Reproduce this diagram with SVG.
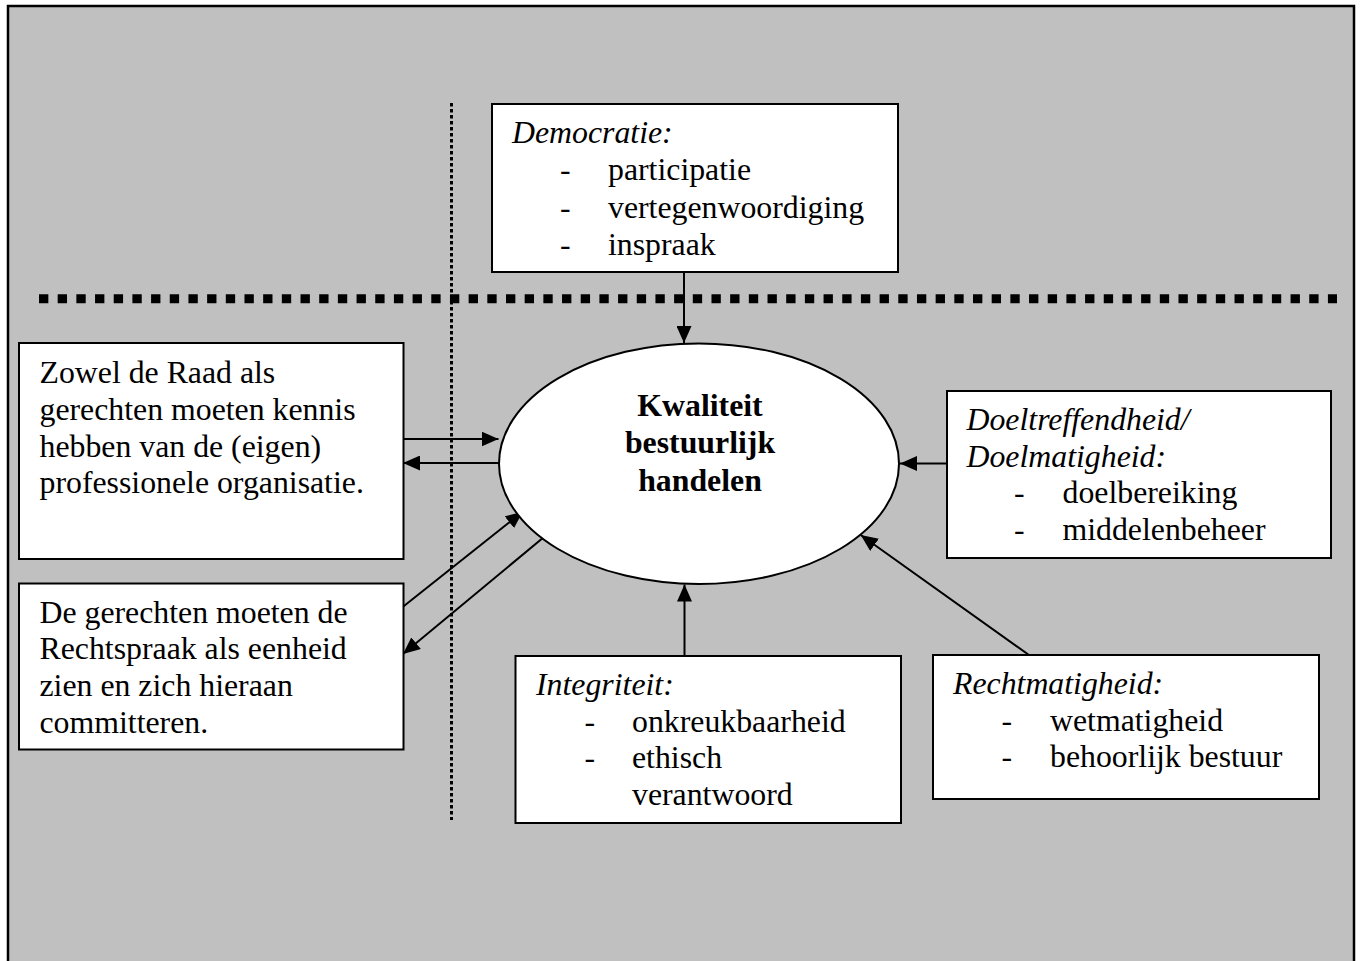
<svg xmlns="http://www.w3.org/2000/svg" width="1360" height="961" viewBox="0 0 1360 961">
<style>
text{font-family:"Liberation Serif","Times New Roman",serif;font-size:31.8px;fill:#000}
.it{font-style:italic}
.b{font-weight:bold}
.box{fill:#fff;stroke:#000;stroke-width:2}
.ln{stroke:#000;stroke-width:2;fill:none}
</style>
<defs>
<marker id="ah" markerUnits="userSpaceOnUse" markerWidth="17" markerHeight="15" refX="17" refY="7.5" orient="auto">
<path d="M0,0 L17,7.5 L0,15 z" fill="#000"/>
</marker>
</defs>
<rect x="8" y="6" width="1346" height="1000" fill="#c0c0c0" stroke="#000" stroke-width="2.5"/>
<g id="separators">
<line x1="39" y1="298.7" x2="1337" y2="298.7" stroke="#000" stroke-width="9" stroke-dasharray="9.34 9.34"/>
<line x1="451.5" y1="103" x2="451.5" y2="820" stroke="#000" stroke-width="3" stroke-dasharray="3.5 2.5"/>
</g>
<g id="connectors">
<line class="ln" x1="684" y1="272" x2="684" y2="343" marker-end="url(#ah)"/>
<line class="ln" x1="947" y1="463.5" x2="900" y2="463.5" marker-end="url(#ah)"/>
<line class="ln" x1="403" y1="439" x2="498.5" y2="439" marker-end="url(#ah)"/>
<line class="ln" x1="499" y1="463" x2="403" y2="463" marker-end="url(#ah)"/>
<line class="ln" x1="403" y1="606.7" x2="522.7" y2="511.7" marker-end="url(#ah)"/>
<line class="ln" x1="547.3" y1="534.3" x2="403" y2="654" marker-end="url(#ah)"/>
<line class="ln" x1="684.5" y1="656" x2="684.5" y2="584.5" marker-end="url(#ah)"/>
<line class="ln" x1="1029" y1="655" x2="860.7" y2="535" marker-end="url(#ah)"/>
</g>
<g id="center">
<ellipse cx="699" cy="463.7" rx="200" ry="120.3" fill="#fff" stroke="#000" stroke-width="2"/>
<text class="b" x="700" y="416" text-anchor="middle">Kwaliteit</text>
<text class="b" x="700" y="453" text-anchor="middle">bestuurlijk</text>
<text class="b" x="700" y="490.5" text-anchor="middle">handelen</text>
</g>
<g id="democratie">
<rect class="box" x="492" y="104" width="406" height="168"/>
<text class="it" x="512" y="143">Democratie:</text>
<text x="560" y="180">-</text><text x="608" y="180">participatie</text>
<text x="560" y="217.5">-</text><text x="608" y="217.5">vertegenwoordiging</text>
<text x="560" y="255">-</text><text x="608" y="255">inspraak</text>
</g>
<g id="doel">
<rect class="box" x="947" y="391" width="384" height="167"/>
<text class="it" x="966.5" y="430">Doeltreffendheid/</text>
<text class="it" x="966.5" y="466.5">Doelmatigheid:</text>
<text x="1014" y="503">-</text><text x="1062.5" y="503">doelbereiking</text>
<text x="1014" y="539.5">-</text><text x="1062.5" y="539.5">middelenbeheer</text>
</g>
<g id="kennis">
<rect class="box" x="19" y="343" width="384.5" height="216"/>
<text x="39.5" y="382.7">Zowel de Raad als</text>
<text x="39.5" y="420">gerechten moeten kennis</text>
<text x="39.5" y="456.7">hebben van de (eigen)</text>
<text x="39.5" y="493.3">professionele organisatie.</text>
</g>
<g id="eenheid">
<rect class="box" x="19" y="583.5" width="384.5" height="166"/>
<text x="39.5" y="622.7">De gerechten moeten de</text>
<text x="39.5" y="659.3">Rechtspraak als eenheid</text>
<text x="39.5" y="696">zien en zich hieraan</text>
<text x="39.5" y="732.7">committeren.</text>
</g>
<g id="integriteit">
<rect class="box" x="515.5" y="656" width="385.5" height="167"/>
<text class="it" x="536" y="695">Integriteit:</text>
<text x="584.5" y="731.7">-</text><text x="632" y="731.7">onkreukbaarheid</text>
<text x="584.5" y="768.3">-</text><text x="632" y="768.3">ethisch</text>
<text x="632" y="805">verantwoord</text>
</g>
<g id="rechtmatigheid">
<rect class="box" x="933" y="655" width="386" height="144"/>
<text class="it" x="953" y="694.3">Rechtmatigheid:</text>
<text x="1001.5" y="730.7">-</text><text x="1050" y="730.7">wetmatigheid</text>
<text x="1001.5" y="767.3">-</text><text x="1050" y="767.3">behoorlijk bestuur</text>
</g>
</svg>
